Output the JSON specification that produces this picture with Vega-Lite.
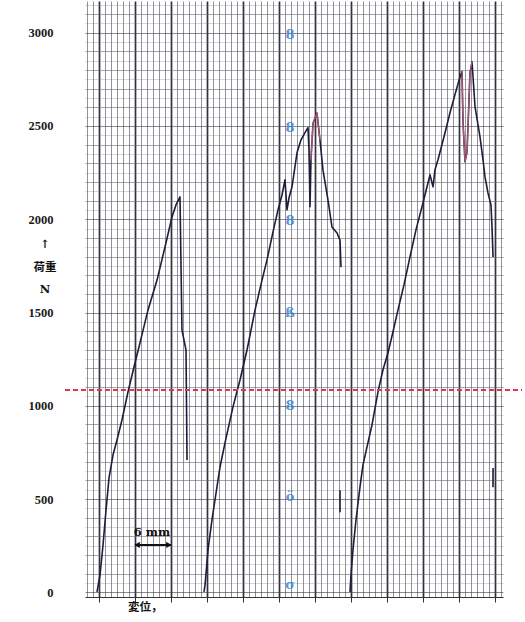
{
  "$schema": "https://vega.github.io/schema/vega-lite/v6.json",
  "width": 418,
  "height": 596,
  "autosize": {"type": "none"},
  "padding": {"left": 85, "top": 1, "right": 22, "bottom": 25},
  "background": "#ffffff",
  "config": {"view": {"stroke": null}},
  "datasets": {
    "curves": [
      {"test": "A", "ord": 1, "disp": 5.67, "load": 2},
      {"test": "A", "ord": 2, "disp": 6.17, "load": 93},
      {"test": "A", "ord": 3, "disp": 6.67, "load": 254},
      {"test": "A", "ord": 4, "disp": 7.17, "load": 441},
      {"test": "A", "ord": 5, "disp": 7.67, "load": 613},
      {"test": "A", "ord": 6, "disp": 8.33, "load": 736},
      {"test": "A", "ord": 7, "disp": 9.0, "load": 817},
      {"test": "A", "ord": 8, "disp": 9.83, "load": 924},
      {"test": "A", "ord": 9, "disp": 10.83, "load": 1074},
      {"test": "A", "ord": 10, "disp": 11.83, "load": 1208},
      {"test": "A", "ord": 11, "disp": 12.83, "load": 1337},
      {"test": "A", "ord": 12, "disp": 14.17, "load": 1514},
      {"test": "A", "ord": 13, "disp": 15.67, "load": 1674},
      {"test": "A", "ord": 14, "disp": 17.0, "load": 1851},
      {"test": "A", "ord": 15, "disp": 18.17, "load": 2012},
      {"test": "A", "ord": 16, "disp": 18.83, "load": 2077},
      {"test": "A", "ord": 17, "disp": 19.5, "load": 2120},
      {"test": "A", "ord": 18, "disp": 19.83, "load": 1406},
      {"test": "A", "ord": 19, "disp": 20.5, "load": 1299},
      {"test": "A", "ord": 20, "disp": 20.58, "load": 1031},
      {"test": "A", "ord": 21, "disp": 20.67, "load": 709},
      {"test": "B", "ord": 1, "disp": 23.5, "load": 2},
      {"test": "B", "ord": 2, "disp": 23.67, "load": 39},
      {"test": "B", "ord": 3, "disp": 24.17, "load": 227},
      {"test": "B", "ord": 4, "disp": 24.83, "load": 388},
      {"test": "B", "ord": 5, "disp": 25.33, "load": 495},
      {"test": "B", "ord": 6, "disp": 26.17, "load": 672},
      {"test": "B", "ord": 7, "disp": 27.0, "load": 801},
      {"test": "B", "ord": 8, "disp": 28.33, "load": 994},
      {"test": "B", "ord": 9, "disp": 29.5, "load": 1138},
      {"test": "B", "ord": 10, "disp": 30.67, "load": 1299},
      {"test": "B", "ord": 11, "disp": 32.0, "load": 1513},
      {"test": "B", "ord": 12, "disp": 33.17, "load": 1674},
      {"test": "B", "ord": 13, "disp": 34.0, "load": 1782},
      {"test": "B", "ord": 14, "disp": 35.0, "load": 1932},
      {"test": "B", "ord": 15, "disp": 35.83, "load": 2050},
      {"test": "B", "ord": 16, "disp": 36.5, "load": 2130},
      {"test": "B", "ord": 17, "disp": 37.0, "load": 2211},
      {"test": "B", "ord": 18, "disp": 37.33, "load": 2050},
      {"test": "B", "ord": 19, "disp": 37.67, "load": 2115},
      {"test": "B", "ord": 20, "disp": 38.17, "load": 2174},
      {"test": "B", "ord": 21, "disp": 39.0, "load": 2356},
      {"test": "B", "ord": 22, "disp": 39.67, "load": 2426},
      {"test": "B", "ord": 23, "disp": 40.33, "load": 2464},
      {"test": "B", "ord": 24, "disp": 40.83, "load": 2491},
      {"test": "B", "ord": 25, "disp": 41.0, "load": 2373},
      {"test": "B", "ord": 26, "disp": 41.17, "load": 2067},
      {"test": "B", "ord": 27, "disp": 41.33, "load": 2319},
      {"test": "B", "ord": 28, "disp": 41.67, "load": 2515},
      {"test": "B", "ord": 29, "disp": 42.33, "load": 2569},
      {"test": "B", "ord": 30, "disp": 42.83, "load": 2424},
      {"test": "B", "ord": 31, "disp": 43.33, "load": 2263},
      {"test": "B", "ord": 32, "disp": 44.17, "load": 2102},
      {"test": "B", "ord": 33, "disp": 44.83, "load": 1958},
      {"test": "B", "ord": 34, "disp": 45.67, "load": 1926},
      {"test": "B", "ord": 35, "disp": 46.17, "load": 1888},
      {"test": "B", "ord": 36, "disp": 46.33, "load": 1743},
      {"test": "C", "ord": 1, "disp": 47.83, "load": 2},
      {"test": "C", "ord": 2, "disp": 48.0, "load": 93},
      {"test": "C", "ord": 3, "disp": 48.33, "load": 227},
      {"test": "C", "ord": 4, "disp": 48.83, "load": 388},
      {"test": "C", "ord": 5, "disp": 49.5, "load": 565},
      {"test": "C", "ord": 6, "disp": 50.0, "load": 683},
      {"test": "C", "ord": 7, "disp": 50.67, "load": 780},
      {"test": "C", "ord": 8, "disp": 51.5, "load": 898},
      {"test": "C", "ord": 9, "disp": 52.5, "load": 1075},
      {"test": "C", "ord": 10, "disp": 53.33, "load": 1193},
      {"test": "C", "ord": 11, "disp": 54.17, "load": 1284},
      {"test": "C", "ord": 12, "disp": 55.0, "load": 1397},
      {"test": "C", "ord": 13, "disp": 55.83, "load": 1514},
      {"test": "C", "ord": 14, "disp": 56.83, "load": 1648},
      {"test": "C", "ord": 15, "disp": 57.83, "load": 1798},
      {"test": "C", "ord": 16, "disp": 58.83, "load": 1943},
      {"test": "C", "ord": 17, "disp": 60.0, "load": 2088},
      {"test": "C", "ord": 18, "disp": 60.67, "load": 2174},
      {"test": "C", "ord": 19, "disp": 61.17, "load": 2238},
      {"test": "C", "ord": 20, "disp": 61.67, "load": 2174},
      {"test": "C", "ord": 21, "disp": 62.0, "load": 2265},
      {"test": "C", "ord": 22, "disp": 62.5, "load": 2319},
      {"test": "C", "ord": 23, "disp": 63.5, "load": 2442},
      {"test": "C", "ord": 24, "disp": 64.5, "load": 2571},
      {"test": "C", "ord": 25, "disp": 65.33, "load": 2668},
      {"test": "C", "ord": 26, "disp": 66.17, "load": 2764},
      {"test": "C", "ord": 27, "disp": 66.5, "load": 2791},
      {"test": "C", "ord": 28, "disp": 66.67, "load": 2518},
      {"test": "C", "ord": 29, "disp": 67.0, "load": 2309},
      {"test": "C", "ord": 30, "disp": 67.33, "load": 2357},
      {"test": "C", "ord": 31, "disp": 67.67, "load": 2641},
      {"test": "C", "ord": 32, "disp": 67.83, "load": 2786},
      {"test": "C", "ord": 33, "disp": 68.17, "load": 2844},
      {"test": "C", "ord": 34, "disp": 68.67, "load": 2603},
      {"test": "C", "ord": 35, "disp": 69.17, "load": 2506},
      {"test": "C", "ord": 36, "disp": 69.5, "load": 2442},
      {"test": "C", "ord": 37, "disp": 70.0, "load": 2318},
      {"test": "C", "ord": 38, "disp": 70.33, "load": 2227},
      {"test": "C", "ord": 39, "disp": 70.83, "load": 2141},
      {"test": "C", "ord": 40, "disp": 71.33, "load": 2077},
      {"test": "C", "ord": 41, "disp": 71.5, "load": 1959},
      {"test": "C", "ord": 42, "disp": 71.67, "load": 1798},
      {"test": "S1", "ord": 1, "disp": 46.17, "load": 547},
      {"test": "S1", "ord": 2, "disp": 46.17, "load": 429},
      {"test": "S2", "ord": 1, "disp": 71.67, "load": 666},
      {"test": "S2", "ord": 2, "disp": 71.67, "load": 564}
    ],
    "peaks": [
      {"test": "B", "ord": 1, "disp": 41.33, "load": 2319},
      {"test": "B", "ord": 2, "disp": 41.67, "load": 2515},
      {"test": "B", "ord": 3, "disp": 42.33, "load": 2569},
      {"test": "B", "ord": 4, "disp": 42.83, "load": 2424},
      {"test": "C", "ord": 1, "disp": 66.5, "load": 2791},
      {"test": "C", "ord": 2, "disp": 66.67, "load": 2518},
      {"test": "C", "ord": 3, "disp": 67.0, "load": 2309},
      {"test": "C", "ord": 4, "disp": 67.33, "load": 2357},
      {"test": "C", "ord": 5, "disp": 67.67, "load": 2641},
      {"test": "C", "ord": 6, "disp": 67.83, "load": 2786},
      {"test": "C", "ord": 7, "disp": 68.17, "load": 2844}
    ],
    "limit": [{"from": 0.33, "to": 76.5, "load": 1085}],
    "paper": [
      {"mark": "8", "disp": 37.83, "load": 2990},
      {"mark": "8", "disp": 37.83, "load": 2490},
      {"mark": "8", "disp": 37.83, "load": 1990},
      {"mark": "ß", "disp": 37.83, "load": 1495},
      {"mark": "8", "disp": 37.83, "load": 1000},
      {"mark": "ö", "disp": 37.83, "load": 510},
      {"mark": "σ", "disp": 37.83, "load": 40}
    ],
    "scale6": [{"from": 12, "to": 18, "load": 254}],
    "heads": [
      {"end": "left", "disp": 12.35, "load": 254},
      {"end": "right", "disp": 17.65, "load": 254}
    ],
    "notes": [
      {"text": "6 mm", "disp": 14.83, "load": 318},
      {"text": "↑", "disp": -3.0, "load": 1863},
      {"text": "N", "disp": -3.0, "load": 1622}
    ],
    "cjk": [
      {"text": "荷重", "disp": -3.0, "load": 1740},
      {"text": "変位，", "disp": 13.7, "load": -86}
    ]
  },
  "encoding": {
    "x": {
      "type": "quantitative",
      "scale": {"domain": [3.667, 73.333], "nice": false, "zero": false},
      "axis": {
        "title": null,
        "values": [4,5,6,7,8,9,10,11,12,13,14,15,16,17,18,19,20,21,22,23,24,25,26,27,28,29,30,31,32,33,34,35,36,37,38,39,40,41,42,43,44,45,46,47,48,49,50,51,52,53,54,55,56,57,58,59,60,61,62,63,64,65,66,67,68,69,70,71,72,73],
        "labels": false,
        "domain": true, "domainColor": "#333333", "domainWidth": 1.2,
        "ticks": true, "tickSize": 5,
        "tickColor": {"condition": {"test": "datum.value % 6 === 0", "value": "#333333"}, "value": "rgba(0,0,0,0)"},
        "grid": true,
        "gridColor": {"condition": {"test": "datum.value % 6 === 0", "value": "#1a1a2a"}, "value": "#4a4a56"},
        "gridWidth": {"condition": {"test": "datum.value % 6 === 0", "value": 1.7}, "value": 1},
        "gridOpacity": {"condition": {"test": "datum.value % 6 === 0", "value": 0.9}, "value": 0.6}
      }
    },
    "y": {
      "type": "quantitative",
      "scale": {"domain": [-25, 3170], "nice": false, "zero": false},
      "axis": {
        "title": null,
        "values": [0,50,100,150,200,250,300,350,400,450,500,550,600,650,700,750,800,850,900,950,1000,1050,1100,1150,1200,1250,1300,1350,1400,1450,1500,1550,1600,1650,1700,1750,1800,1850,1900,1950,2000,2050,2100,2150,2200,2250,2300,2350,2400,2450,2500,2550,2600,2650,2700,2750,2800,2850,2900,2950,3000,3050,3100,3150],
        "labelExpr": "datum.value % 500 === 0 ? format(datum.value, 'd') : ''",
        "labelFont": "Liberation Serif", "labelFontWeight": "bold", "labelFontSize": 12.5,
        "labelColor": "#1a1a1a", "labelPadding": 32,
        "domain": false, "ticks": false,
        "grid": true,
        "gridColor": {"condition": {"test": "datum.value % 500 === 0", "value": "#3a3a44"}, "value": "#6a6a72"},
        "gridWidth": {"condition": {"test": "datum.value % 500 === 0", "value": 1.1}, "value": 1},
        "gridOpacity": {"condition": {"test": "datum.value % 100 === 0", "value": 0.6}, "value": 0.28}
      }
    }
  },
  "layer": [
    {
      "data": {"name": "curves"},
      "mark": {"type": "line", "color": "#1d1d3c", "strokeWidth": 1.6, "strokeJoin": "round"},
      "encoding": {
        "x": {"field": "disp", "type": "quantitative"},
        "y": {"field": "load", "type": "quantitative"},
        "detail": {"field": "test", "type": "nominal"},
        "order": {"field": "ord", "type": "quantitative"}
      }
    },
    {
      "data": {"name": "peaks"},
      "mark": {"type": "line", "color": "#d0607a", "strokeWidth": 1.3, "opacity": 0.8},
      "encoding": {
        "x": {"field": "disp", "type": "quantitative"},
        "y": {"field": "load", "type": "quantitative"},
        "detail": {"field": "test", "type": "nominal"},
        "order": {"field": "ord", "type": "quantitative"}
      }
    },
    {
      "data": {"name": "limit"},
      "mark": {"type": "rule", "color": "#e2344c", "strokeWidth": 2, "strokeDash": [5, 3]},
      "encoding": {
        "x": {"field": "from", "type": "quantitative"},
        "x2": {"field": "to"},
        "y": {"field": "load", "type": "quantitative"}
      }
    },
    {
      "data": {"name": "paper"},
      "mark": {"type": "text", "color": "#3f86cc", "font": "DejaVu Serif", "fontSize": 13, "fontWeight": "bold", "align": "center", "baseline": "middle", "opacity": 0.85},
      "encoding": {
        "x": {"field": "disp", "type": "quantitative"},
        "y": {"field": "load", "type": "quantitative"},
        "text": {"field": "mark"}
      }
    },
    {
      "data": {"name": "scale6"},
      "mark": {"type": "rule", "color": "#111111", "strokeWidth": 2},
      "encoding": {
        "x": {"field": "from", "type": "quantitative"},
        "x2": {"field": "to"},
        "y": {"field": "load", "type": "quantitative"}
      }
    },
    {
      "data": {"name": "heads"},
      "mark": {"type": "point", "filled": true, "color": "#111111", "size": 40, "opacity": 1},
      "encoding": {
        "x": {"field": "disp", "type": "quantitative"},
        "y": {"field": "load", "type": "quantitative"},
        "shape": {"field": "end", "type": "nominal", "scale": {"domain": ["left", "right"], "range": ["triangle-left", "triangle-right"]}, "legend": null}
      }
    },
    {
      "data": {"name": "notes"},
      "mark": {"type": "text", "color": "#111111", "font": "DejaVu Serif", "fontWeight": "bold", "fontSize": 11.5, "align": "center", "baseline": "middle"},
      "encoding": {
        "x": {"field": "disp", "type": "quantitative"},
        "y": {"field": "load", "type": "quantitative"},
        "text": {"field": "text"}
      }
    },
    {
      "data": {"name": "cjk"},
      "mark": {"type": "text", "color": "#111111", "font": "Noto Sans CJK JP", "fontWeight": "bold", "fontSize": 11.5, "align": "center", "baseline": "middle"},
      "encoding": {
        "x": {"field": "disp", "type": "quantitative"},
        "y": {"field": "load", "type": "quantitative"},
        "text": {"field": "text"}
      }
    }
  ]
}
